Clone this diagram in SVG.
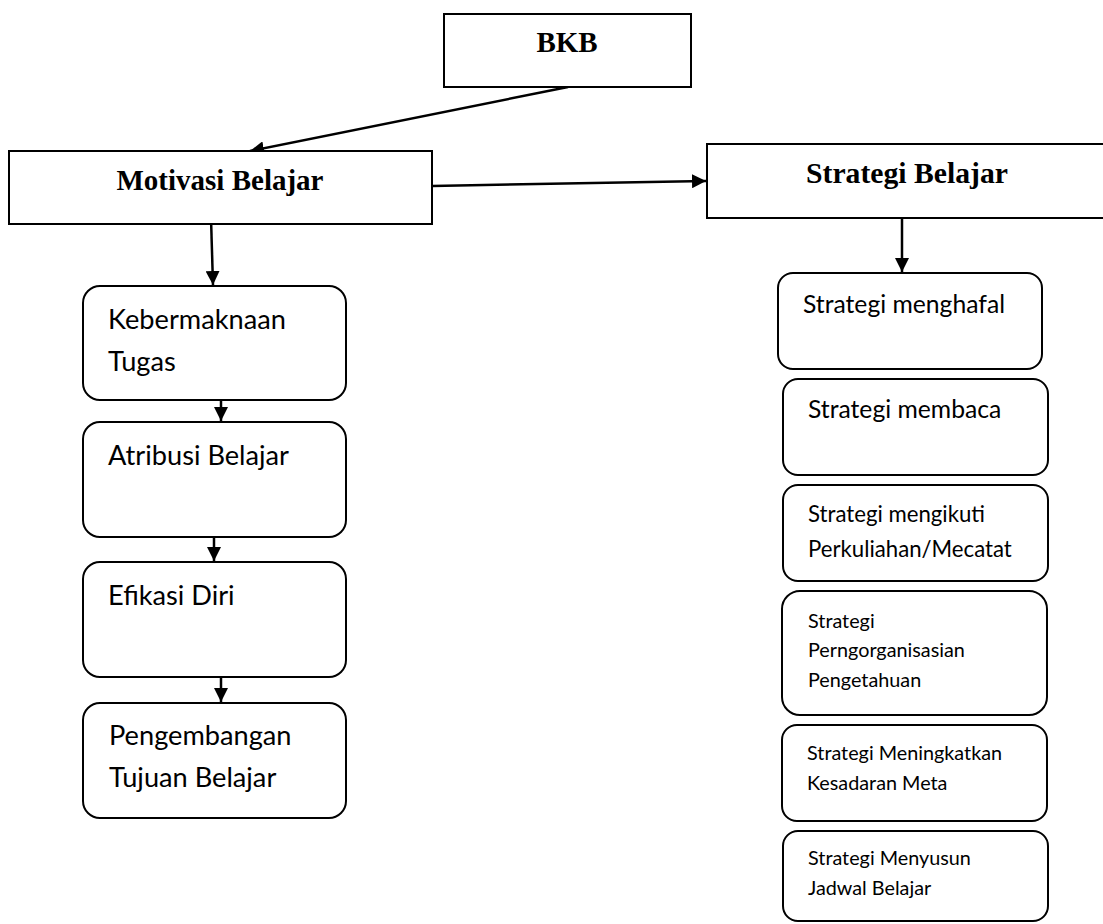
<svg xmlns="http://www.w3.org/2000/svg" width="1103" height="924" viewBox="0 0 1103 924">
<defs>
<marker id="ah" viewBox="0 0 14 14" refX="14" refY="7" markerWidth="14" markerHeight="14" markerUnits="userSpaceOnUse" orient="auto">
<path d="M0,0 L14,7 L0,14 Z" fill="#000"/>
</marker>
<style>
.box{fill:#fff;stroke:#000;stroke-width:2}
.rbox{fill:#fff;stroke:#000;stroke-width:2}
.title{font-family:"Liberation Serif","Times New Roman",serif;font-weight:bold;fill:#000}
.lbl{font-family:Lato,"Liberation Sans",sans-serif;fill:#000}
.conn{stroke:#000;stroke-width:2.5;fill:none}
</style>
</defs>
<rect width="1103" height="924" fill="#fff"/>
<g id="connectors">
<line class="conn" x1="568" y1="87" x2="250" y2="151" marker-end="url(#ah)"/>
<line class="conn" x1="432" y1="186" x2="706" y2="181" marker-end="url(#ah)"/>
<line class="conn" x1="211" y1="218" x2="213" y2="285" marker-end="url(#ah)"/>
<line class="conn" x1="902" y1="218" x2="902" y2="272" marker-end="url(#ah)"/>
<line class="conn" x1="221" y1="400" x2="221" y2="421" marker-end="url(#ah)"/>
<line class="conn" x1="214" y1="537" x2="214" y2="561" marker-end="url(#ah)"/>
<line class="conn" x1="221" y1="677" x2="221" y2="702" marker-end="url(#ah)"/>
</g>
<g id="bkb">
<rect class="box" x="444" y="14" width="247" height="73"/>
<text class="title" x="567" y="52" font-size="29" text-anchor="middle">BKB</text>
</g>
<g id="motivasi">
<rect class="box" x="9" y="151" width="423" height="73"/>
<text class="title" x="220" y="190" font-size="29" text-anchor="middle">Motivasi Belajar</text>
</g>
<g id="strategi">
<rect class="box" x="707" y="144" width="420" height="74"/>
<text class="title" x="907" y="183" font-size="29.7" text-anchor="middle">Strategi Belajar</text>
</g>
<g id="kebermaknaan">
<rect class="rbox" x="83" y="286" width="263" height="114" rx="17"/>
<text class="lbl" x="108" y="329" font-size="27.2">Kebermaknaan</text>
<text class="lbl" x="108" y="371" font-size="27.2">Tugas</text>
</g>
<g id="atribusi">
<rect class="rbox" x="83" y="422" width="263" height="115" rx="17"/>
<text class="lbl" x="108" y="465" font-size="27.2">Atribusi Belajar</text>
</g>
<g id="efikasi">
<rect class="rbox" x="83" y="562" width="263" height="115" rx="17"/>
<text class="lbl" x="108" y="605" font-size="27.2">Efikasi Diri</text>
</g>
<g id="pengembangan">
<rect class="rbox" x="83" y="703" width="263" height="115" rx="17"/>
<text class="lbl" x="109" y="745" font-size="27.2">Pengembangan</text>
<text class="lbl" x="109" y="787" font-size="27.2">Tujuan Belajar</text>
</g>
<g id="menghafal">
<rect class="rbox" x="778" y="273" width="264" height="96" rx="15"/>
<text class="lbl" x="803" y="313" font-size="24.7">Strategi menghafal</text>
</g>
<g id="membaca">
<rect class="rbox" x="783" y="379" width="265" height="96" rx="15"/>
<text class="lbl" x="808" y="418" font-size="24.7">Strategi membaca</text>
</g>
<g id="mengikuti">
<rect class="rbox" x="783" y="485" width="265" height="96" rx="15"/>
<text class="lbl" x="808" y="522" font-size="22.2">Strategi mengikuti</text>
<text class="lbl" x="808" y="557" font-size="22.2">Perkuliahan/Mecatat</text>
</g>
<g id="pengorganisasian">
<rect class="rbox" x="782" y="591" width="265" height="124" rx="18"/>
<text class="lbl" x="808" y="628" font-size="19.8">Strategi</text>
<text class="lbl" x="808" y="657" font-size="19.8">Perngorganisasian</text>
<text class="lbl" x="808" y="687" font-size="19.8">Pengetahuan</text>
</g>
<g id="meningkatkan">
<rect class="rbox" x="782" y="725" width="265" height="96" rx="15"/>
<text class="lbl" x="807" y="760" font-size="19.8">Strategi Meningkatkan</text>
<text class="lbl" x="807" y="790" font-size="19.8">Kesadaran Meta</text>
</g>
<g id="menyusun">
<rect class="rbox" x="783" y="831" width="265" height="90" rx="15"/>
<text class="lbl" x="808" y="865" font-size="19.8">Strategi Menyusun</text>
<text class="lbl" x="808" y="895" font-size="19.8">Jadwal Belajar</text>
</g>
</svg>
